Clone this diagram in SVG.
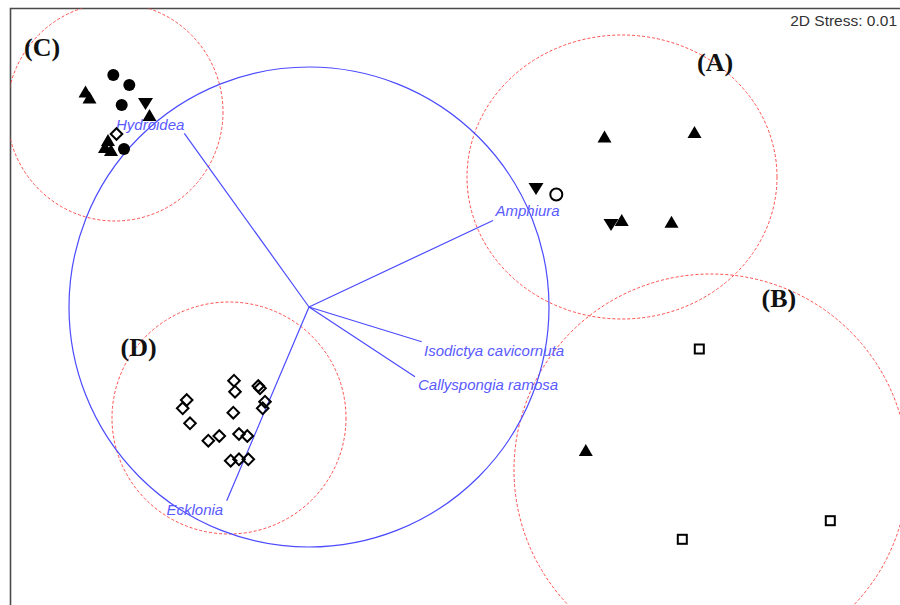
<svg xmlns="http://www.w3.org/2000/svg" xmlns:xlink="http://www.w3.org/1999/xlink" width="900" height="605" viewBox="0 0 900 605">
  <style>
    .frame { stroke: #4a4a4a; stroke-width: 1.6; fill: none; }
    .group { fill: none; stroke: #ff4d4d; stroke-width: 1; stroke-dasharray: 3 2; }
    .bubble { fill: none; stroke: #4b4bff; stroke-width: 1.2; }
    .vec { stroke: #4b4bff; stroke-width: 1.2; fill: none; }
    .vlab { font-family: "Liberation Sans", Arial, sans-serif; font-style: italic; font-size: 15px; fill: #5a5aff; }
    .glab { font-family: "Liberation Serif", "Times New Roman", serif; font-weight: bold; font-size: 26px; fill: #111; }
    .stress { font-family: "Liberation Sans", Arial, sans-serif; font-size: 15.5px; fill: #333; }
    .solid { fill: #000; stroke: none; }
    .open { fill: #fff; stroke: #000; stroke-width: 2; }
    .openn { fill: none; stroke: #000; stroke-width: 2; }
  </style>
  <defs>
    <clipPath id="plot"><rect x="10.5" y="8.5" width="900" height="600"/></clipPath>
    <path id="tu" class="solid" d="M0,-6 L7,6 L-7,6 Z"/>
    <path id="td" class="solid" d="M-7.5,-6 L7.5,-6 L0,6 Z"/>
    <circle id="dot" class="solid" r="6"/>
    <circle id="oc" class="open" r="6"/>
    <rect id="sq" class="open" x="-4.5" y="-4.5" width="9" height="9"/>
    <path id="dm" class="openn" d="M0,-5.8 L5.8,0 L0,5.8 L-5.8,0 Z"/>
    <path id="dmw" class="open" d="M0,-5.8 L5.8,0 L0,5.8 L-5.8,0 Z"/>
  </defs>

  <rect x="0" y="0" width="900" height="605" fill="#fff"/>

  <g id="frame">
    <path class="frame" d="M10.5,605 L10.5,8.5 L900,8.5"/>
    <text class="stress" x="897" y="25.5" text-anchor="end">2D Stress: 0.01</text>
  </g>

  <g id="groups" clip-path="url(#plot)">
    <ellipse id="circle-C" class="group" cx="115" cy="112" rx="108" ry="109"/>
    <ellipse id="circle-A" class="group" cx="622" cy="177" rx="155" ry="142"/>
    <ellipse id="circle-B" class="group" cx="711" cy="470" rx="197" ry="196"/>
    <ellipse id="circle-D" class="group" cx="229" cy="418" rx="117" ry="116"/>
  </g>

  <g id="connectors">
    <circle class="bubble" cx="309" cy="307" r="240"/>
    <line class="vec" x1="309" y1="307" x2="184.3" y2="133.3"/>
    <line class="vec" x1="309" y1="307" x2="493" y2="220.5"/>
    <line class="vec" x1="309" y1="307" x2="421.7" y2="341.7"/>
    <line class="vec" x1="309" y1="307" x2="415" y2="376.7"/>
    <line class="vec" x1="309" y1="307" x2="226.7" y2="500.7"/>
  </g>

  <g id="vector-labels">
    <text class="vlab" x="116" y="129.5">Hydroidea</text>
    <text class="vlab" x="495.5" y="215.5">Amphiura</text>
    <text class="vlab" x="424" y="356">Isodictya cavicornuta</text>
    <text class="vlab" x="418" y="390">Callyspongia ramosa</text>
    <text class="vlab" x="166.5" y="515">Ecklonia</text>
  </g>

  <g id="group-labels">
    <text class="glab" x="24" y="55.5">(C)</text>
    <text class="glab" x="697" y="70.5">(A)</text>
    <text class="glab" x="761.5" y="306.5">(B)</text>
    <text class="glab" x="120.5" y="355.5">(D)</text>
  </g>

  <g id="node-C">
    <use href="#dot" x="113.3" y="75"/>
    <use href="#dot" x="129.3" y="85"/>
    <use href="#dot" x="121.7" y="105"/>
    <use href="#tu" x="85.5" y="91.5"/>
    <use href="#tu" x="89.5" y="97.5"/>
    <use href="#td" x="145.5" y="104"/>
    <use href="#tu" x="149.5" y="115"/>
    <use href="#tu" x="108" y="140"/>
    <use href="#tu" x="105" y="147"/>
    <use href="#tu" x="111" y="150"/>
    <use href="#dot" x="124" y="149"/>
    <use href="#dmw" x="116.5" y="134"/>
  </g>

  <g id="node-A">
    <use href="#tu" x="604.5" y="136.5"/>
    <use href="#tu" x="694.5" y="132"/>
    <use href="#td" x="536" y="189"/>
    <use href="#oc" x="556.3" y="194.5"/>
    <use href="#td" x="611" y="225"/>
    <use href="#tu" x="621.7" y="220"/>
    <use href="#tu" x="671.5" y="221.7"/>
  </g>

  <g id="node-B">
    <use href="#sq" x="699.3" y="349"/>
    <use href="#tu" x="585.8" y="450"/>
    <use href="#sq" x="682.3" y="539.3"/>
    <use href="#sq" x="830.3" y="520.7"/>
  </g>

  <g id="node-D">
    <use href="#dm" x="234" y="380.7"/>
    <use href="#dm" x="235" y="391.7"/>
    <use href="#dm" x="258.3" y="386"/>
    <use href="#dm" x="260" y="388.3"/>
    <use href="#dm" x="186.7" y="400"/>
    <use href="#dm" x="182.7" y="408.3"/>
    <use href="#dm" x="265" y="401.7"/>
    <use href="#dm" x="262.7" y="408.3"/>
    <use href="#dm" x="233.3" y="412.7"/>
    <use href="#dm" x="190" y="423.3"/>
    <use href="#dm" x="219.3" y="436"/>
    <use href="#dm" x="208.3" y="440.7"/>
    <use href="#dm" x="239" y="434"/>
    <use href="#dm" x="247.3" y="436"/>
    <use href="#dm" x="230.7" y="460.7"/>
    <use href="#dm" x="239" y="459.3"/>
    <use href="#dm" x="248.3" y="459.3"/>
  </g>
</svg>
